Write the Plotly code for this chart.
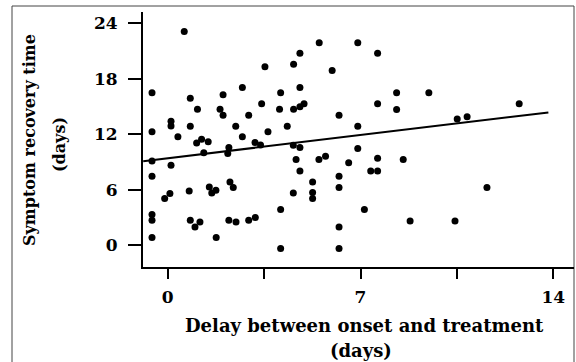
import plotly.graph_objects as go

# Scatter data (days)
delay = [0.60, 5.50, 6.90, 4.80, 4.57, 3.53, 5.97, -0.57, 2.71, 2.01, 4.10, 4.80,
         0.82, 1.08, 1.90, 2.01, 3.41, 2.94, 4.06, 4.57, 4.80, 4.95, 6.22, 0.12,
         0.12, 0.82, 2.47, 4.34, 6.90, -0.57, 3.64, 0.37, 1.23, 1.47, 1.05, 2.71,
         3.17, 3.37, 2.22, 2.18, 1.31, -0.57, 0.12, -0.57, 4.56, 4.80, 4.66, 4.80,
         5.49, 5.73, 6.57, 6.90, 5.26, 5.26, 5.26, 6.22, 6.22, 4.56, 4.10, 4.10,
         6.22, 6.22, 2.26, 2.38, 1.51, 1.75, 1.60, 0.78, 0.08, -0.11, -0.57, -0.57,
         -0.57, 0.82, 0.99, 1.17, 1.76, 2.22, 2.48, 2.94, 3.18, 7.62, 7.62, 8.31,
         8.31, 9.48, 12.76, 10.51, 10.87, 7.62, 8.55, 7.37, 7.62, 7.14, 8.80, 10.43,
         11.59]
recovery = [23.1, 21.9, 21.9, 20.75, 19.56, 19.3, 18.9, 16.5, 17.07, 16.27, 16.5, 17.07,
            15.9, 14.7, 14.7, 14.07, 15.3, 14.07, 14.7, 14.7, 14.97, 15.3, 14.07, 13.4,
            12.9, 12.88, 12.88, 12.88, 12.88, 12.26, 12.26, 11.72, 11.47, 11.18, 11.07, 11.72,
            11.11, 10.85, 10.57, 9.92, 9.99, 9.12, 8.66, 7.47, 10.82, 10.57, 9.27, 8.04,
            9.27, 9.63, 8.91, 10.46, 6.85, 5.70, 5.05, 7.47, 6.24, 5.66, 3.86, -0.36,
            1.98, -0.36, 6.85, 6.24, 6.31, 5.95, 5.66, 5.88, 5.59, 5.05, 3.32, 2.71,
            0.83, 2.71, 1.98, 2.52, 0.83, 2.71, 2.52, 2.71, 3.0, 20.75, 15.3, 16.5,
            14.68, 16.5, 15.3, 13.64, 13.89, 9.42, 9.27, 8.04, 8.04, 3.86, 2.63, 2.63,
            6.24]

# Regression line
fit_intercept = 9.41
fit_slope = 0.358
fit_x = [-0.89, 13.82]
fit_y = [fit_intercept + fit_slope * v for v in fit_x]

x_tickvals = [0, 3.5, 7, 10.5, 14]
x_ticktext = ["0", "", "7", "", "14"]
y_tickvals = [0, 6, 12, 18, 24]
y_ticktext = ["0", "6", "12", "18", "24"]

FONT = "DejaVu Serif"

fig = go.Figure()
fig.add_trace(go.Scatter(x=delay, y=recovery, mode="markers",
                         marker=dict(color="black", size=7),
                         showlegend=False, cliponaxis=False))
fig.add_trace(go.Scatter(x=fit_x, y=fit_y, mode="lines",
                         line=dict(color="black", width=2),
                         showlegend=False))

fig.update_layout(
    width=576, height=362,
    margin=dict(l=143, r=2, t=12, b=95),
    paper_bgcolor="white", plot_bgcolor="white",
    font=dict(family=FONT, color="black"),
    xaxis=dict(range=[-0.897, 14.75], showgrid=False, zeroline=False,
               showline=True, linecolor="black", linewidth=2,
               ticks="outside", ticklen=10, tickwidth=2, tickcolor="black",
               tickvals=x_tickvals, ticktext=x_ticktext, ticklabelstandoff=4,
               tickfont=dict(family=FONT, size=17, weight="bold", color="black")),
    yaxis=dict(range=[-2.35, 25.22], showgrid=False, zeroline=False,
               showline=True, linecolor="black", linewidth=2,
               ticks="outside", ticklen=13, tickwidth=2, tickcolor="black",
               tickvals=y_tickvals, ticktext=y_ticktext, ticklabelstandoff=7,
               tickfont=dict(family=FONT, size=17, weight="bold", color="black")),
    shapes=[dict(type="rect", xref="paper", yref="paper",
                 x0=(12 - 143) / 431, x1=1.0, y0=-0.5, y1=1 + 6 / 255,
                 line=dict(color="#444444", width=1), layer="below")],
    annotations=[
        dict(text="Delay between onset and treatment", xref="paper", yref="paper",
             x=(364 - 143) / 431, y=-(325 - 267) / 255, xanchor="center", yanchor="middle",
             showarrow=False, font=dict(family=FONT, size=18, weight="bold")),
        dict(text="(days)", xref="paper", yref="paper",
             x=(361 - 143) / 431, y=-(350 - 267) / 255, xanchor="center", yanchor="middle",
             showarrow=False, font=dict(family=FONT, size=18, weight="bold")),
        dict(text="Symptom recovery time", xref="paper", yref="paper", textangle=-90,
             x=(29 - 143) / 431, y=(267 - 140) / 255, xanchor="center", yanchor="middle",
             showarrow=False, font=dict(family=FONT, size=16, weight="bold")),
        dict(text="(days)", xref="paper", yref="paper", textangle=-90,
             x=(60 - 143) / 431, y=(267 - 145) / 255, xanchor="center", yanchor="middle",
             showarrow=False, font=dict(family=FONT, size=16, weight="bold")),
    ],
)

fig.write_html("out.html", config={"displayModeBar": False},
               post_script="document.body.style.margin='0';document.body.style.padding='0';")
